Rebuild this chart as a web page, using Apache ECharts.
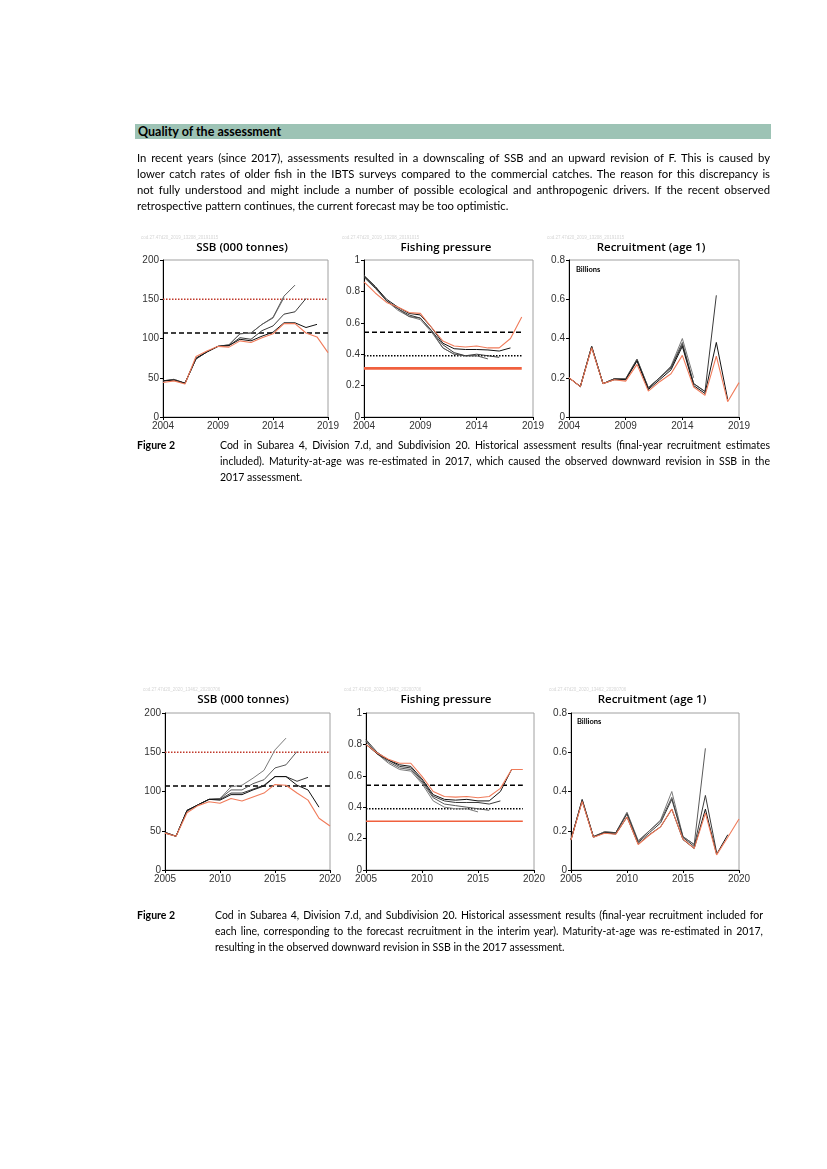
<!DOCTYPE html>
<html><head><meta charset="utf-8">
<script src="https://cdn.jsdelivr.net/npm/echarts@6/dist/echarts.min.js"></script>
<style>
body{margin:0;background:#fff;}
#page{position:relative;width:827px;height:1169px;overflow:hidden;font-family:Lato,'Open Sans',sans-serif;color:#000;}
#chart{position:absolute;left:0;top:0;width:827px;height:1169px;}
.t{position:absolute;z-index:2;}
.hdr{left:135px;top:124px;width:633px;height:15px;background:#9DC3B5;font-weight:bold;font-size:12.5px;line-height:15px;padding-left:3px;}
.para{left:137px;top:150px;width:633px;font-size:11.3px;line-height:16px;}
.j{text-align:justify;text-align-last:justify;}
.l{text-align:left;}
.fig{font-size:10.5px;font-weight:bold;}
.cap{font-size:10.5px;line-height:16px;}
</style></head>
<body><div id="page">
<div id="chart"></div>
<div class="t hdr">Quality of the assessment</div>
<div class="t para">
<div class="j">In recent years (since 2017), assessments resulted in a downscaling of SSB and an upward revision of F. This is caused by</div>
<div class="j">lower catch rates of older fish in the IBTS surveys compared to the commercial catches. The reason for this discrepancy is</div>
<div class="j">not fully understood and might include a number of possible ecological and anthropogenic drivers. If the recent observed</div>
<div class="l">retrospective pattern continues, the current forecast may be too optimistic.</div>
</div>
<div class="t fig" style="left:137px;top:437px;line-height:16px;">Figure 2</div>
<div class="t cap" style="left:220px;top:437px;width:550px;">
<div class="j">Cod in Subarea 4, Division 7.d, and Subdivision 20. Historical assessment results (final-year recruitment estimates</div>
<div class="j">included). Maturity-at-age was re-estimated in 2017, which caused the observed downward revision in SSB in the</div>
<div class="l">2017 assessment.</div>
</div>
<div class="t fig" style="left:137px;top:907px;line-height:16px;">Figure 2</div>
<div class="t cap" style="left:215px;top:907px;width:548px;">
<div class="j">Cod in Subarea 4, Division 7.d, and Subdivision 20. Historical assessment results (final-year recruitment included for</div>
<div class="j">each line, corresponding to the forecast recruitment in the interim year). Maturity-at-age was re-estimated in 2017,</div>
<div class="l">resulting in the observed downward revision in SSB in the 2017 assessment.</div>
</div>
</div>
<script>
// ---------- DATA ----------
// Row 1 (2019 advice), years from 2004
const start1 = 2004, end1 = 2019;
const ssb19_a2015 = [46,48,43,74,83,90,92,106,107,118,126,152];
const ssb19_a2016 = [46,48,43,74,83,90,92,106,107,118,127,154,168];
const ssb19_a2017 = [46,47,43,74,83,90,91,101,99,110,116,131,134,151];
const ssb19_a2018 = [46,47,43,75,83,90,91,99,97,103,108,120,120,114,118];
const ssb19_a2019 = [44,46,42,77,84,90,89,97,95,101,106,119,119,107,102,82];

const f19_a2015 = [0.90,0.83,0.74,0.68,0.64,0.62,0.54,0.44,0.40,0.39,0.39];
const f19_a2016 = [0.90,0.83,0.74,0.69,0.64,0.63,0.55,0.44,0.40,0.39,0.39,0.37];
const f19_a2017 = [0.89,0.82,0.74,0.69,0.65,0.63,0.55,0.46,0.41,0.39,0.40,0.39,0.38];
const f19_a2018 = [0.90,0.83,0.75,0.70,0.66,0.65,0.57,0.47,0.435,0.43,0.43,0.427,0.42,0.44];
const f19_a2019 = [0.86,0.79,0.73,0.70,0.665,0.66,0.57,0.484,0.452,0.446,0.452,0.44,0.44,0.50,0.637];

const r19_a2015 = [0.20,0.155,0.36,0.17,0.195,0.195,0.295,0.15,0.20,0.26,0.40,0.20];
const r19_a2016 = [0.20,0.155,0.36,0.17,0.195,0.195,0.295,0.15,0.20,0.255,0.38,0.17,0.13];
const r19_a2017 = [0.20,0.155,0.36,0.17,0.195,0.19,0.29,0.145,0.20,0.25,0.37,0.17,0.13,0.62];
const r19_a2018 = [0.20,0.155,0.355,0.17,0.19,0.19,0.285,0.14,0.19,0.24,0.36,0.16,0.12,0.38,0.09];
const r19_a2019 = [0.20,0.155,0.353,0.17,0.19,0.183,0.268,0.132,0.18,0.22,0.314,0.153,0.11,0.31,0.078,0.175];

// Row 2 (2020 advice), years from 2005
const start2 = 2005, end2 = 2020;
const ssb20_a2016 = [48,43,75,83,90,91,106,108,117,127,153,168];
const ssb20_a2017 = [48,43,75,83,90,91,102,102,110,115,130,134,151];
const ssb20_a2018 = [48,43,76,83,90,90,98,98,103,108,119,119,113,118];
const ssb20_a2019 = [47,43,76,83,90,89,96,96,102,107,119,119,108,102,80];
const ssb20_a2020 = [47,43,73,82,87,85,91,88,93,98,109,108,98,89,66,56];

const f20_a2016 = [0.82,0.74,0.68,0.64,0.63,0.55,0.44,0.40,0.39,0.39,0.37];
const f20_a2017 = [0.82,0.74,0.69,0.65,0.64,0.56,0.46,0.42,0.41,0.40,0.39,0.38];
const f20_a2018 = [0.83,0.75,0.70,0.66,0.65,0.57,0.47,0.44,0.43,0.43,0.43,0.42,0.44];
const f20_a2019 = [0.80,0.74,0.70,0.67,0.66,0.58,0.48,0.45,0.445,0.45,0.44,0.44,0.50,0.64];
const f20_a2020 = [0.80,0.745,0.706,0.68,0.68,0.596,0.50,0.468,0.464,0.468,0.46,0.468,0.52,0.64,0.64];

const r20_a2016 = [0.155,0.36,0.17,0.195,0.19,0.295,0.15,0.20,0.255,0.40,0.17,0.13];
const r20_a2017 = [0.155,0.36,0.17,0.195,0.19,0.29,0.145,0.20,0.25,0.37,0.17,0.13,0.62];
const r20_a2018 = [0.155,0.355,0.17,0.19,0.19,0.285,0.14,0.19,0.24,0.36,0.165,0.12,0.38,0.09];
const r20_a2019 = [0.155,0.353,0.167,0.19,0.183,0.27,0.132,0.18,0.22,0.31,0.155,0.11,0.31,0.08,0.18];
const r20_a2020 = [0.153,0.35,0.167,0.187,0.182,0.27,0.13,0.178,0.22,0.31,0.157,0.11,0.29,0.077,0.167,0.26];

// Reference points
const ssbBpa = 150, ssbBlim = 107;
const fDashed = 0.54, fDotted = 0.39, fOrange = 0.31;

const titles = ['SSB (000 tonnes)', 'Fishing pressure', 'Recruitment (age 1)'];
const watermark1 = 'cod.27.47d20_2019_13208_20191015';
const watermark2 = 'cod.27.47d20_2020_13462_20200706';

// ---------- BUILD ----------
const greys = ['#7a7a7a','#5a5a5a','#3a3a3a','#111111'];
const orange = '#F07B5A';
const pairs = (s, arr) => arr.map((v, i) => [s + i, v]);

const grids = [
  {left:163, top:260, width:165, height:157},
  {left:364, top:260, width:169, height:157},
  {left:569, top:260, width:170, height:157},
  {left:165, top:713, width:165, height:157},
  {left:366, top:713, width:168, height:157},
  {left:571, top:713, width:168, height:157}
].map(g => Object.assign({show:true, borderColor:'#a0a0a0', borderWidth:1, backgroundColor:'transparent', outerBoundsMode:'none', containLabel:false}, g));

const yMax = [200, 1, 0.8, 200, 1, 0.8];
const yInt = [50, 0.2, 0.2, 50, 0.2, 0.2];
const axLabel = {fontFamily:'Liberation Sans, Arial, sans-serif', fontSize:10, color:'#333', margin:4};
const xAxes = grids.map((g, i) => ({
  gridIndex:i, type:'value', min: i<3?start1:start2, max: i<3?end1:end2, interval:5,
  axisLine:{show:true, onZero:false, lineStyle:{color:'#000', width:1}},
  axisTick:{show:true, length:3, lineStyle:{color:'#000'}},
  axisLabel:Object.assign({formatter: v => String(v)}, axLabel), splitLine:{show:false}
}));
const yAxes = grids.map((g, i) => ({
  gridIndex:i, type:'value', min:0, max:yMax[i], interval:yInt[i],
  axisLine:{show:true, lineStyle:{color:'#000', width:1}},
  axisTick:{show:true, length:3, lineStyle:{color:'#000'}},
  axisLabel:axLabel, splitLine:{show:false}
}));

const series = [];
function ref(idx, x0, x1, y, color, type, width) {
  series.push({type:'line', xAxisIndex:idx, yAxisIndex:idx, data:[[x0,y],[x1,y]], showSymbol:false, silent:true,
    lineStyle:{color, type, width}, z:1});
}
function retro(idx, s, list) {
  list.forEach((arr, k) => {
    const isLast = k === list.length - 1;
    series.push({type:'line', xAxisIndex:idx, yAxisIndex:idx, data:pairs(s, arr), showSymbol:false, silent:true,
      lineStyle:{color: isLast ? orange : greys[k], width: isLast ? 1.1 : 1}, z: isLast ? 3 : 2});
  });
}
// Row 1
ref(0, start1, end1, ssbBpa, '#C0392B', [1.5,1.5], 1.3);
ref(0, start1, end1, ssbBlim, '#000', [5,3], 1.5);
retro(0, start1, [ssb19_a2015, ssb19_a2016, ssb19_a2017, ssb19_a2018, ssb19_a2019]);
ref(1, start1, 2018, fDashed, '#000', [5,3], 1.5);
ref(1, start1, 2018, fDotted, '#000', [1.5,1.5], 1.6);
ref(1, start1, 2018, fOrange, '#F0603E', 'solid', 2.6);
retro(1, start1, [f19_a2015, f19_a2016, f19_a2017, f19_a2018, f19_a2019]);
retro(2, start1, [r19_a2015, r19_a2016, r19_a2017, r19_a2018, r19_a2019]);
// Row 2
ref(3, start2, end2, ssbBpa, '#C0392B', [1.5,1.5], 1.3);
ref(3, start2, end2, ssbBlim, '#000', [5,3], 1.5);
retro(3, start2, [ssb20_a2016, ssb20_a2017, ssb20_a2018, ssb20_a2019, ssb20_a2020]);
ref(4, start2, 2019, fDashed, '#000', [5,3], 1.5);
ref(4, start2, 2019, fDotted, '#000', [1.5,1.5], 1.6);
ref(4, start2, 2019, fOrange, '#F0603E', 'solid', 1.5);
retro(4, start2, [f20_a2016, f20_a2017, f20_a2018, f20_a2019, f20_a2020]);
retro(5, start2, [r20_a2016, r20_a2017, r20_a2018, r20_a2019, r20_a2020]);

const graphic = [];
const titleX = [242, 446, 651, 243, 446, 652];
grids.forEach((g, i) => {
  const ty = i < 3 ? 248 : 700;
  graphic.push({type:'text', x:titleX[i], y:ty, style:{text:titles[i%3], align:'center', verticalAlign:'middle',
    fontFamily:'Open Sans, sans-serif', fontSize:11.5, fontWeight:600, fill:'#000'}});
  graphic.push({type:'text', x:g.left-22, y:ty-10, style:{text: i<3?watermark1:watermark2, align:'left', verticalAlign:'middle',
    fontFamily:'Liberation Sans, sans-serif', fontSize:4.5, fill:'#d6d6d6'}});
});
graphic.push({type:'text', x:576, y:270, style:{text:'Billions', align:'left', verticalAlign:'middle', fontFamily:'Lato, sans-serif', fontSize:7.5, fontWeight:'bold', fill:'#000'}});
graphic.push({type:'text', x:577, y:722, style:{text:'Billions', align:'left', verticalAlign:'middle', fontFamily:'Lato, sans-serif', fontSize:7.5, fontWeight:'bold', fill:'#000'}});

const chart = echarts.init(document.getElementById('chart'), null, {renderer:'canvas'});
chart.setOption({animation:false, grid:grids, xAxis:xAxes, yAxis:yAxes, series, graphic});
</script>
</body></html>
